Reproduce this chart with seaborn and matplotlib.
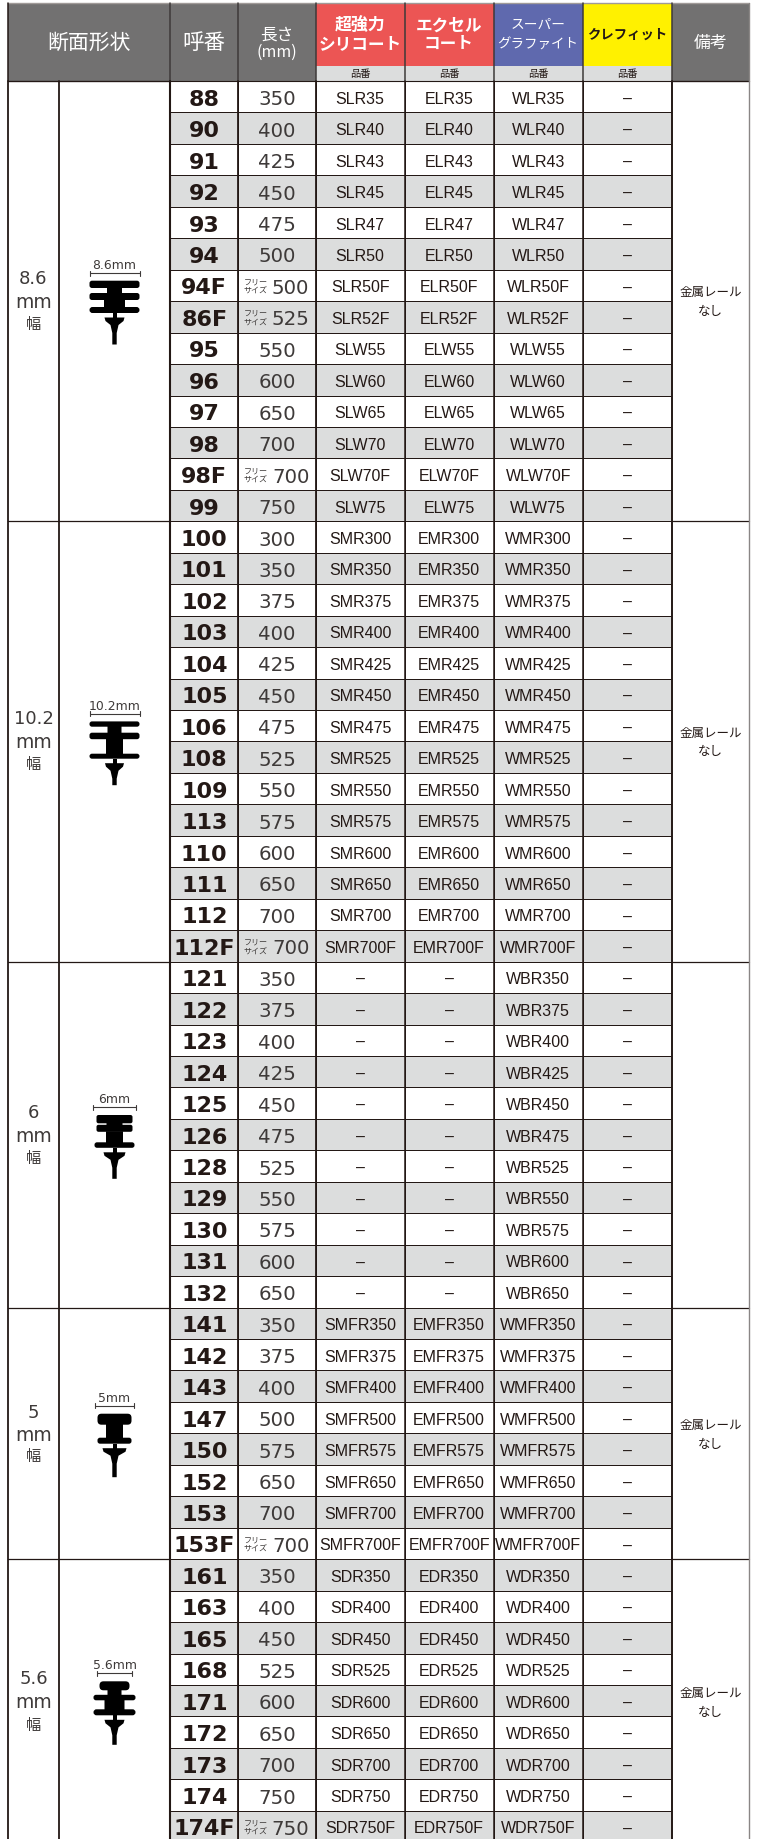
"""Wiper refill lineup table, drawn as seaborn heatmap columns with an overlay for the header."""

import numpy as np
import matplotlib
matplotlib.use("Agg")
import matplotlib.pyplot as plt
import seaborn as sns
from matplotlib.colors import ListedColormap
from matplotlib.patches import FancyBboxPatch, Polygon, Rectangle

# table values, row by row
numbers = [
    "88", "90", "91", "92", "93", "94", "94F", "86F", "95", "96", "97", "98", "98F", "99",
    "100", "101", "102", "103", "104", "105", "106", "108", "109", "113", "110", "111", "112", "112F",
    "121", "122", "123", "124", "125", "126", "128", "129", "130", "131", "132",
    "141", "142", "143", "147", "150", "152", "153", "153F",
    "161", "163", "165", "168", "171", "172", "173", "174", "174F",
]
lengths = [
    350, 400, 425, 450, 475, 500, 500, 525, 550, 600, 650, 700, 700, 750,
    300, 350, 375, 400, 425, 450, 475, 525, 550, 575, 600, 650, 700, 700,
    350, 375, 400, 425, 450, 475, 525, 550, 575, 600, 650,
    350, 375, 400, 500, 575, 650, 700, 700,
    350, 400, 450, 525, 600, 650, 700, 750, 750,
]
free_size = ["94F", "86F", "112F", "153F", "174F", "98F"]
silicone = [
    "SLR35", "SLR40", "SLR43", "SLR45", "SLR47", "SLR50", "SLR50F", "SLR52F", "SLW55", "SLW60", "SLW65", "SLW70", "SLW70F", "SLW75",
    "SMR300", "SMR350", "SMR375", "SMR400", "SMR425", "SMR450", "SMR475", "SMR525", "SMR550", "SMR575", "SMR600", "SMR650", "SMR700", "SMR700F",
    "–", "–", "–", "–", "–", "–", "–", "–", "–", "–", "–",
    "SMFR350", "SMFR375", "SMFR400", "SMFR500", "SMFR575", "SMFR650", "SMFR700", "SMFR700F",
    "SDR350", "SDR400", "SDR450", "SDR525", "SDR600", "SDR650", "SDR700", "SDR750", "SDR750F",
]
excel = [
    "ELR35", "ELR40", "ELR43", "ELR45", "ELR47", "ELR50", "ELR50F", "ELR52F", "ELW55", "ELW60", "ELW65", "ELW70", "ELW70F", "ELW75",
    "EMR300", "EMR350", "EMR375", "EMR400", "EMR425", "EMR450", "EMR475", "EMR525", "EMR550", "EMR575", "EMR600", "EMR650", "EMR700", "EMR700F",
    "–", "–", "–", "–", "–", "–", "–", "–", "–", "–", "–",
    "EMFR350", "EMFR375", "EMFR400", "EMFR500", "EMFR575", "EMFR650", "EMFR700", "EMFR700F",
    "EDR350", "EDR400", "EDR450", "EDR525", "EDR600", "EDR650", "EDR700", "EDR750", "EDR750F",
]
graphite = [
    "WLR35", "WLR40", "WLR43", "WLR45", "WLR47", "WLR50", "WLR50F", "WLR52F", "WLW55", "WLW60", "WLW65", "WLW70", "WLW70F", "WLW75",
    "WMR300", "WMR350", "WMR375", "WMR400", "WMR425", "WMR450", "WMR475", "WMR525", "WMR550", "WMR575", "WMR600", "WMR650", "WMR700", "WMR700F",
    "WBR350", "WBR375", "WBR400", "WBR425", "WBR450", "WBR475", "WBR525", "WBR550", "WBR575", "WBR600", "WBR650",
    "WMFR350", "WMFR375", "WMFR400", "WMFR500", "WMFR575", "WMFR650", "WMFR700", "WMFR700F",
    "WDR350", "WDR400", "WDR450", "WDR525", "WDR600", "WDR650", "WDR700", "WDR750", "WDR750F",
]
clefit = ["–"] * len(numbers)

# one entry per blade width group
section_rows = [14, 14, 11, 8, 9]
section_widths = ["8.6", "10.2", "6", "5", "5.6"]
section_notes = ["金属レール\nなし", "金属レール\nなし", "", "金属レール\nなし", "金属レール\nなし"]

# layout, in reference pixels
W, H = 758, 1840
HEADER_BOTTOM = 82
ROW_H = 31.45
COL_X = [7.7, 59.3, 170.3, 238.3, 315.8, 404.6, 493.6, 582.8, 672.2, 749]
LEFT_CX = 114.5

DARK = "#231815"
TEXT = "#3e3a39"
BAND = "#dcdddd"
HEAD_GRAY = "#727171"
RED = "#ec5554"
BLUE = "#5f69ae"
YELLOW = "#fff100"

CJK = ["Noto Sans CJK JP", "DejaVu Sans"]
LATIN = ["Liberation Sans", "Noto Sans CJK JP"]

sns.set_theme(style="white")
plt.rcParams["font.family"] = CJK

fig = plt.figure(figsize=(W / 100, H / 100), dpi=100, facecolor="white")

n_rows = len(numbers)
shade = (np.arange(n_rows) % 2).reshape(-1, 1)
band_cmap = ListedColormap(["white", BAND])


def band_column(x0, x1, labels, **font):
    # each body column gets its own heatmap so the widths can differ
    top = 1 - HEADER_BOTTOM / H
    height = n_rows * ROW_H / H
    ax = fig.add_axes([x0 / W, top - height, (x1 - x0) / W, height])
    sns.heatmap(
        shade,
        ax=ax,
        cmap=band_cmap,
        vmin=0,
        vmax=1,
        cbar=False,
        linewidths=0.7,
        linecolor=DARK,
        annot=np.array(labels, dtype=object).reshape(-1, 1),
        fmt="",
        annot_kws=dict(va="center_baseline", **font),
        xticklabels=False,
        yticklabels=False,
    )
    return ax


band_column(COL_X[2], COL_X[3], numbers, family="DejaVu Sans", weight="bold", size=16, color=DARK)

length_labels = ["" if no in free_size else str(v) for no, v in zip(numbers, lengths)]
ax_len = band_column(COL_X[3], COL_X[4], length_labels, family="DejaVu Sans", size=14.2, color=TEXT)
for i, no in enumerate(numbers):
    if no in free_size:
        ax_len.text(0.675, i + 0.5, str(lengths[i]), ha="center", va="center_baseline",
                    family="DejaVu Sans", size=14.2, color=TEXT)
        ax_len.text(0.225, i + 0.36, "フリー", ha="center", va="center", size=5.8, color=TEXT)
        ax_len.text(0.225, i + 0.63, "サイズ", ha="center", va="center", size=5.8, color=TEXT)

for col, codes in enumerate([silicone, excel, graphite, clefit]):
    band_column(COL_X[4 + col], COL_X[5 + col], codes, family=LATIN, size=11.5, color=DARK)

# overlay in pixel coordinates: header, group cells, outlines
ax = fig.add_axes([0, 0, 1, 1], facecolor="none", zorder=5)
ax.set_xlim(0, W)
ax.set_ylim(H, 0)
ax.axis("off")


def cell(x0, y0, x1, y1, color):
    ax.add_patch(Rectangle((x0, y0), x1 - x0, y1 - y0, facecolor=color, edgecolor="none"))


cell(COL_X[0], 4, COL_X[9], HEADER_BOTTOM, HEAD_GRAY)
for col, color in zip(range(4, 8), [RED, RED, BLUE, YELLOW]):
    cell(COL_X[col], 4, COL_X[col + 1], 66.7, color)
    cell(COL_X[col], 66.7, COL_X[col + 1], HEADER_BOTTOM, BAND)
    ax.text((COL_X[col] + COL_X[col + 1]) / 2, 74.3, "品番", ha="center", va="center", size=7.4, color=DARK)

ax.plot([COL_X[0], COL_X[9]], [4, 4], color="#a09a98", lw=1)
for x in COL_X[2:9]:
    ax.plot([x, x], [4, HEADER_BOTTOM], color="#3e3a39", lw=1.1)
ax.plot([COL_X[0], COL_X[9]], [HEADER_BOTTOM, HEADER_BOTTOM], color=DARK, lw=0.8)

head_font = dict(ha="center", va="center", linespacing=1.0)
ax.text(89.4, 43, "断面形状", color="white", size=15, **head_font)
ax.text(204.3, 43, "呼番", color="white", size=15.5, **head_font)
ax.text(276.5, 35, "長さ", color="white", size=12, **head_font)
ax.text(276.5, 52.7, "(mm)", color="white", size=11.5, **head_font)
ax.text(360, 25.7, "超強力", color="white", size=12.2, weight="bold", **head_font)
ax.text(360, 44, "シリコート", color="white", size=12, weight="bold", **head_font)
ax.text(449, 25.7, "エクセル", color="white", size=12, weight="bold", **head_font)
ax.text(449, 44, "コート", color="white", size=12, weight="bold", **head_font)
ax.text(538, 25, "スーパー", color="white", size=9.9, **head_font)
ax.text(538, 44.3, "グラファイト", color="white", size=9.7, **head_font)
ax.text(627.5, 35, "クレフィット", color=DARK, size=9.6, weight="bold", **head_font)
ax.text(710.5, 43, "備考", color="white", size=12.2, **head_font)

# blade cross-sections: bars are half width, top, bottom relative to the dimension line
profiles = [
    dict(y=274.0, span=25, bars=[(25, 7.7, 15, 2.5), (7.5, 14, 21, 0), (25, 20, 27, 2.5), (10.5, 26, 35, 0), (25, 34, 40, 3)], head=10),
    dict(y=714.7, span=25, bars=[(25, 7.7, 13, 2.5), (7, 12, 20, 0), (25, 19, 25.5, 2.5), (8.5, 25, 41, 0), (25, 40, 45, 2.5)], head=9.5),
    dict(y=1108.3, span=21.7, bars=[(18, 7.7, 16, 2), (18, 17.5, 24.5, 2), (8, 14, 19, 0), (8.5, 24, 36, 0), (20, 35, 40.5, 2.5)], head=11),
    dict(y=1406.7, span=19.5, bars=[(17, 8, 19, 4), (8.5, 18, 33, 0), (17, 32, 38, 2.5)], head=12),
    dict(y=1674.3, span=17.3, bars=[(15, 8, 17, 4), (7, 16, 23, 0), (21, 21.5, 27, 2.5), (10, 26, 37, 0), (21, 36, 42, 3)], head=10),
]


def draw_profile(width, y, span, bars, head):
    ax.text(LEFT_CX, y - 8.6, f"{width}mm", ha="center", va="center", family="DejaVu Sans", size=8.9, color=TEXT)
    ax.plot([LEFT_CX - span, LEFT_CX + span], [y, y], color=TEXT, lw=0.8)
    for x in [LEFT_CX - span, LEFT_CX + span]:
        ax.plot([x, x], [y - 2.5, y + 2.5], color=TEXT, lw=0.8)
    for half, top, bottom, r in bars:
        ax.add_patch(FancyBboxPatch(
            (LEFT_CX - half + r, y + top + r), 2 * (half - r), bottom - top - 2 * r,
            boxstyle=f"round,pad={r}", facecolor="black", edgecolor="none",
        ))
    low = bars[-1][2]
    cell(LEFT_CX - 2, y + low, LEFT_CX + 2, y + low + 6, "black")
    ax.add_patch(Polygon(
        [(LEFT_CX + dx, y + dy) for dx, dy in [
            (-head, low + 4.5), (head, low + 4.5), (head - 1, low + 8), (4, low + 12), (2.2, low + 20),
            (2.2, 71.5), (-2.2, 71.5), (-2.2, low + 20), (-4, low + 12), (-head + 1, low + 8),
        ]],
        facecolor="black", edgecolor="none",
    ))


row_top = 0
label_y = [(279, 302.5, 325), (719, 743, 765), (1113, 1137, 1159), (1413, 1436, 1457), (1679, 1703, 1726)]
note_y = [302, 742.5, None, 1435, 1703]
for i, count in enumerate(section_rows):
    y_top = HEADER_BOTTOM + row_top * ROW_H
    ax.plot([COL_X[0], COL_X[2]], [y_top, y_top], color=DARK, lw=0.9)
    ax.plot([COL_X[8], COL_X[9]], [y_top, y_top], color=DARK, lw=0.9)
    y1, y2, y3 = label_y[i]
    ax.text(33.5, y1, section_widths[i], ha="center", va="center", family="DejaVu Sans", size=13, color=TEXT)
    ax.text(33.5, y2, "mm", ha="center", va="center", family="DejaVu Sans", size=13.5, color=TEXT)
    ax.text(33.5, y3, "幅", ha="center", va="center", size=11, color=TEXT)
    draw_profile(section_widths[i], **profiles[i])
    if section_notes[i]:
        ax.text(710.5, note_y[i], section_notes[i], ha="center", va="center", size=9,
                color=DARK, linespacing=1.6)
    row_top += count

# heavier verticals through the body
for x, lw in zip(COL_X, [1.3, 1.3, 1.5, 1.3, 1.3, 1.1, 1.1, 1.1, 1.4, 1.0]):
    color = "#8a8685" if x == COL_X[9] else DARK
    ax.plot([x, x], [HEADER_BOTTOM, H], color=color, lw=lw)
ax.plot([COL_X[0], COL_X[0]], [4, HEADER_BOTTOM], color=DARK, lw=1.1)
ax.plot([COL_X[9], COL_X[9]], [4, HEADER_BOTTOM], color="#8a8685", lw=1.0)

fig.savefig("out.png", dpi=100, facecolor="white")
plt.close(fig)
